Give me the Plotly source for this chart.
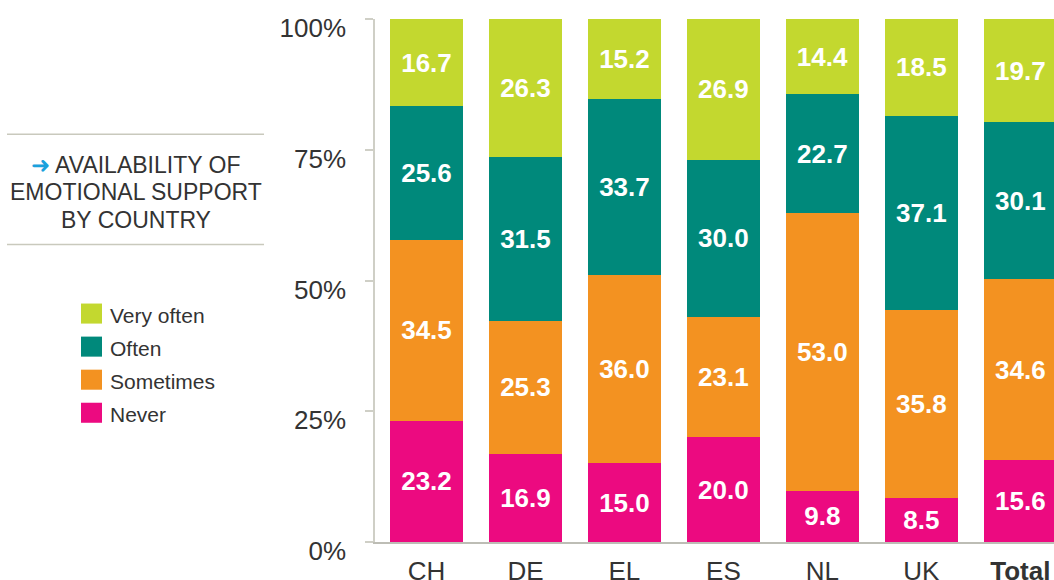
import plotly.graph_objects as go

categories = ["CH", "DE", "EL", "ES", "NL", "UK", "Total"]
tick_labels = ["CH", "DE", "EL", "ES", "NL", "UK", "<b>Total</b>"]
never = [23.2, 16.9, 15.0, 20.0, 9.8, 8.5, 15.6]
sometimes = [34.5, 25.3, 36.0, 23.1, 53.0, 35.8, 34.6]
often = [25.6, 31.5, 33.7, 30.0, 22.7, 37.1, 30.1]
very_often = [16.7, 26.3, 15.2, 26.9, 14.4, 18.5, 19.7]

series = [
    ("Never", never, "#ec0a80"),
    ("Sometimes", sometimes, "#f39221"),
    ("Often", often, "#00897b"),
    ("Very often", very_often, "#c3d82f"),
]

FONT = "Liberation Sans, Arial, sans-serif"

fig = go.Figure()
for name, vals, col in series:
    fig.add_trace(go.Bar(
        name=name, x=categories, y=vals,
        marker=dict(color=col, line=dict(width=0)),
        text=[f"{v:.1f}" for v in vals],
        textposition="inside", insidetextanchor="middle",
        textfont=dict(family=FONT, size=26, color="white", weight="bold"),
        textangle=0,
        width=0.74,
        showlegend=False,
    ))

fig.update_layout(
    barmode="stack", barnorm="percent",
    width=1054, height=580,
    margin=dict(l=375, r=0, t=19, b=38),
    plot_bgcolor="white", paper_bgcolor="white",
    font=dict(family=FONT, color="#333333"),
    uniformtext=dict(minsize=26, mode="show"),
)
fig.update_xaxes(
    range=[-0.52, 6.34], tickmode="array", tickvals=categories, ticktext=tick_labels,
    tickfont=dict(size=26, color="#333333"), showgrid=False,
    showline=True, linecolor="#bdbdb5", linewidth=1.5, ticks="",
    ticklabelstandoff=5, automargin=False,
)
fig.update_yaxes(
    range=[0, 100], tickvals=[0, 25, 50, 75, 100],
    ticktext=["0%", "25%", "50%", "75%", "100%"],
    tickfont=dict(size=26, color="#333333"), showgrid=False, zeroline=False,
    showline=True, linecolor="#cfcfc6", linewidth=1.5,
    ticks="outside", ticklen=8, tickcolor="#cfcfc6", tickwidth=1.5,
    ticklabelstandoff=14, ticklabelshift=9, automargin=False,
)

# Left panel: title between rules
for yy in (134, 244):
    fig.add_shape(type="line", xref="paper", yref="paper",
                  x0=(7 - 375) / 679, x1=(264 - 375) / 679,
                  y0=(541 - yy) / 522, y1=(541 - yy) / 522,
                  line=dict(color="#c9c9bd", width=1.5))

title_lines = [
    ("<span style='color:#1ba1dc'>➜</span> AVAILABILITY OF", 165),
    ("EMOTIONAL SUPPORT", 192),
    ("BY COUNTRY", 220),
]
for txt, yy in title_lines:
    fig.add_annotation(text=txt, xref="paper", yref="paper",
                       x=(136 - 375) / 679, y=(541 - yy) / 522,
                       xanchor="center", yanchor="middle", showarrow=False,
                       font=dict(size=23, color="#333333", family=FONT))

# Custom legend
legend_items = [("Very often", "#c3d82f", 313), ("Often", "#00897b", 346),
                ("Sometimes", "#f39221", 379), ("Never", "#ec0a80", 412)]
for name, col, yc in legend_items:
    fig.add_shape(type="rect", xref="paper", yref="paper",
                  x0=(81 - 375) / 679, x1=(102 - 375) / 679,
                  y0=(541 - (yc + 10)) / 522, y1=(541 - (yc - 10)) / 522,
                  fillcolor=col, line=dict(width=0))
    fig.add_annotation(text=name, xref="paper", yref="paper",
                       x=(108 - 375) / 679, y=(541 - (yc + 2)) / 522,
                       xanchor="left", yanchor="middle", showarrow=False,
                       font=dict(size=21, color="#333333", family=FONT))

fig.write_html(
    "out.html",
    config={"displayModeBar": False},
    post_script="document.body.style.margin='0';document.body.style.overflow='hidden';",
)
